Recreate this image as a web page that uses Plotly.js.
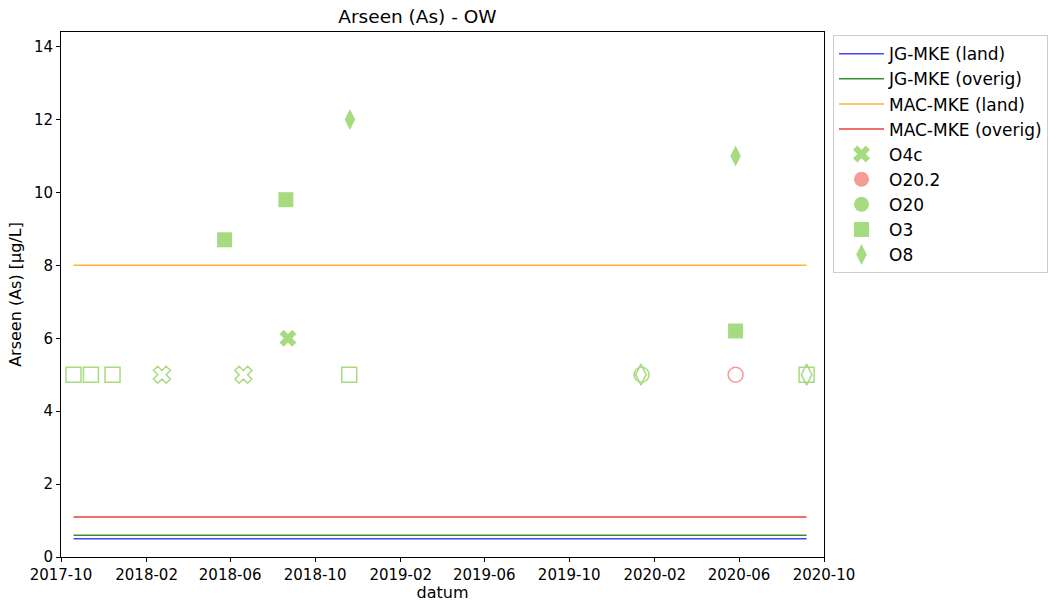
<!DOCTYPE html>
<html>
<head>
<meta charset="utf-8">
<script src="https://cdn.plot.ly/plotly-3.0.1.min.js"></script>
<style>html,body{margin:0;padding:0;background:#fff;}</style>
</head>
<body>
<div id="chart" style="width:1049px;height:602px;"></div>
<script>
// Limit lines (µg/L)
var limitNames = ['JG-MKE (land)', 'JG-MKE (overig)', 'MAC-MKE (land)', 'MAC-MKE (overig)'];
var limitValues = [0.5, 0.6, 8, 1.1];

// Measurements: detected values (filled) and values below reporting limit (open)
var o4cDates = ['2018-08-23'];
var o4cValues = [6];
var o4cBelowDates = ['2018-02-23', '2018-06-20'];
var o4cBelowValues = [5, 5];

var o202Dates = [];
var o202Values = [];
var o202BelowDates = ['2020-05-27'];
var o202BelowValues = [5];

var o20Dates = [];
var o20Values = [];
var o20BelowDates = ['2020-01-13'];
var o20BelowValues = [5];

var o3Dates = ['2018-05-24', '2018-08-20', '2020-05-27'];
var o3Values = [8.7, 9.8, 6.2];
var o3BelowDates = ['2017-10-19', '2017-11-13', '2017-12-14', '2018-11-19', '2020-09-06'];
var o3BelowValues = [5, 5, 5, 5, 5];

var o8Dates = ['2018-11-20', '2020-05-27'];
var o8Values = [12, 11];
var o8BelowDates = ['2020-01-12', '2020-09-06'];
var o8BelowValues = [5, 5];

var xTickStart = '2017-10-01';
var xRange = ['2017-10-01', '2020-10-01'];
var yRange = [0, 14.4];

var allDates = [].concat(o4cDates, o4cBelowDates, o202BelowDates, o20BelowDates, o3Dates, o3BelowDates, o8Dates, o8BelowDates).sort();
var firstDate = allDates[0], lastDate = allDates[allDates.length - 1];

var lineColors = ['rgb(70,70,245)', 'rgb(50,145,50)', 'rgb(255,180,45)', 'rgb(235,60,60)'];
var green = 'rgb(166,219,128)';
var pink = 'rgb(245,155,150)';

var traces = [];
for (var i = 0; i < limitNames.length; i++) {
  traces.push({
    x: [firstDate, lastDate], y: [limitValues[i], limitValues[i]],
    type: 'scatter', mode: 'lines', name: limitNames[i],
    line: {color: lineColors[i], width: 1.5}
  });
}

var series = [
  {name: 'O4c', d: o4cDates, v: o4cValues, bd: o4cBelowDates, bv: o4cBelowValues, sym: 'x', size: 15, color: green},
  {name: 'O20.2', d: o202Dates, v: o202Values, bd: o202BelowDates, bv: o202BelowValues, sym: 'circle', size: 15, color: pink},
  {name: 'O20', d: o20Dates, v: o20Values, bd: o20BelowDates, bv: o20BelowValues, sym: 'circle', size: 15, color: green},
  {name: 'O3', d: o3Dates, v: o3Values, bd: o3BelowDates, bv: o3BelowValues, sym: 'square', size: 15, color: green},
  {name: 'O8', d: o8Dates, v: o8Values, bd: o8BelowDates, bv: o8BelowValues, sym: 'diamond-tall', size: 15, color: green}
];

series.forEach(function (s) {
  // a series without detected values still needs its legend entry
  var dx = s.d.length ? s.d : [null];
  var dy = s.v.length ? s.v : [null];
  traces.push({
    x: dx, y: dy, type: 'scatter', mode: 'markers', name: s.name, legendgroup: s.name,
    marker: {symbol: s.sym, size: s.size, color: s.color, line: {width: 0}}
  });
  traces.push({
    x: s.bd, y: s.bv, type: 'scatter', mode: 'markers', name: s.name, legendgroup: s.name, showlegend: false,
    marker: {symbol: s.sym + '-open', size: s.size, color: s.color, line: {width: 1.5, color: s.color}}
  });
});

var ff = 'DejaVu Sans, sans-serif';
var font = {family: ff, size: 15, color: '#000'};
var layout = {
  width: 1049, height: 602,
  margin: {l: 61, r: 225, t: 32, b: 45, autoexpand: false},
  paper_bgcolor: '#fff', plot_bgcolor: '#fff',
  font: font,
  title: {text: 'Arseen (As) - OW', font: {family: ff, size: 18.5, color: '#000'}, x: 0.398, xanchor: 'center', y: 0.972, yanchor: 'middle'},
  xaxis: {
    type: 'date', range: xRange, tick0: xTickStart, dtick: 'M4', tickformat: '%Y-%m',
    showgrid: false, zeroline: false, showline: true, linecolor: '#000', linewidth: 1, mirror: true,
    ticks: 'outside', ticklen: 4, tickcolor: '#000', tickfont: font,
    title: {text: 'datum', font: {family: ff, size: 16, color: '#000'}, standoff: 6}
  },
  yaxis: {
    range: yRange, tick0: 0, dtick: 2,
    showgrid: false, zeroline: false, showline: true, linecolor: '#000', linewidth: 1, mirror: true,
    ticks: 'outside', ticklen: 4, tickcolor: '#000', tickfont: font,
    title: {text: 'Arseen (As) [µg/L]', font: {family: ff, size: 16, color: '#000'}, standoff: 8}
  },
  legend: {
    x: 1.0118, y: 0.994, xanchor: 'left', yanchor: 'top',
    bordercolor: '#ccc', borderwidth: 1, bgcolor: '#fff',
    font: {family: ff, size: 17, color: '#000'},
    tracegroupgap: 0, itemwidth: 45
  },
  showlegend: true
};

Plotly.newPlot('chart', traces, layout, {displayModeBar: false, staticPlot: true});
</script>
</body>
</html>
